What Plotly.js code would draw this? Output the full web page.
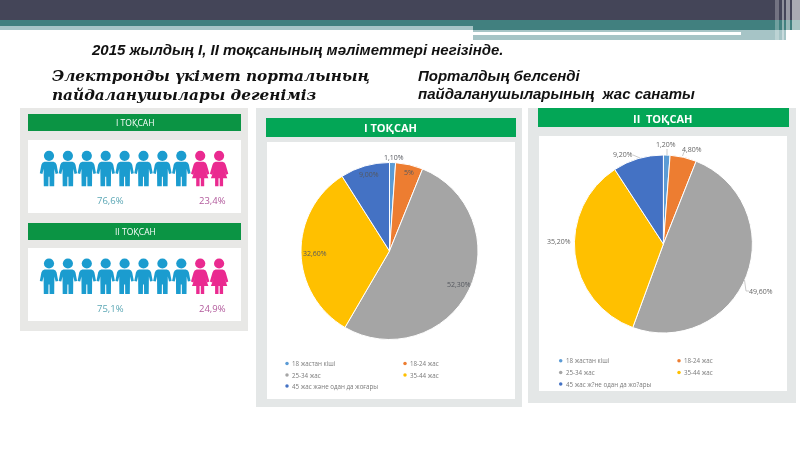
<!DOCTYPE html>
<html>
<head>
<meta charset="utf-8">
<script src="https://cdn.plot.ly/plotly-3.0.1.min.js"></script>
<style>html,body{margin:0;padding:0;background:#fff}#chart{width:800px;height:450px;filter:blur(0.45px)}</style>
</head>
<body>
<div id="chart"></div>
<script>
var categoriesQ1 = ['18 жастан кіші','18-24 жас','25-34 жас','35-44 жас','45 жас және одан да жоғары'];
var categoriesQ2 = ['18 жастан кіші','18-24 жас','25-34 жас','35-44 жас','45 жас ж?не одан да жо?ары'];
var valuesQ1 = [1.1,5,52.3,32.6,9];
var valuesQ2 = [1.2,4.8,49.6,35.2,9.2];
var labelsQ1 = ['1,10%','5%','52,30%','32,60%','9,00%'];
var labelsQ2 = ['1,20%','4,80%','49,60%','35,20%','9,20%'];
var sliceColors = ['#5B9BD5','#ED7D31','#A5A5A5','#FFC000','#4472C4'];
var maleCount = 8, femaleCount = 2;
var genderShares = [['76,6%','23,4%'],['75,1%','24,9%']];
var quarters = ['I ТОҚСАН','II ТОҚСАН'];

var W = 800, H = 450;
var shapes = [], ann = [];
function rect(x0,y0,x1,y1,c,layer){shapes.push({type:'rect',xref:'x',yref:'y',x0:x0,y0:y0,x1:x1,y1:y1,fillcolor:c,line:{width:0},layer:layer||'below'});}
function txt(x,y,t,size,color,o){o=o||{};ann.push({xref:'x',yref:'y',x:x,y:y,text:t,showarrow:false,xanchor:o.anchor||'center',yanchor:'middle',align:'left',borderpad:0,borderwidth:0,font:{family:o.family||'Open Sans, sans-serif',size:size,color:color}});}
function leader(pts){shapes.push({type:'path',xref:'x',yref:'y',path:'M'+pts.map(function(p){return p.join(',')}).join(' L'),line:{color:'#b5b5b5',width:.7},layer:'above'});}

/* slide header */
rect(0,0,800,20,'#444558');
rect(0,20,800,30,'#41807f');
rect(0,26,473,30,'#a8c5c7');
rect(473,30,786,40,'#a6c4c6');
rect(473,32,741,35,'#ffffff');
[[775,779,.25],[782,784,.4],[786,790,.45],[792,800,.55]].forEach(function(s){rect(s[0],0,s[1],40,'rgba(255,255,255,'+s[2]+')');});

/* panels */
rect(20,108,248,331,'#e8e8e6');
rect(28,114,241,131,'#0b9444');
rect(28,140,241,213,'#ffffff');
rect(28,223,241,240,'#0b9444');
rect(28,248,241,321,'#ffffff');
rect(256,108,522,407,'#e4e7e7');
rect(266,118,516,137,'#03a656');
rect(267,142,515,399,'#ffffff');
rect(528,108,796,403,'#e4e7e7');
rect(538,108,789,127,'#03a656');
rect(539,136,787,391,'#ffffff');

/* people */
var malePath = [[-4.5,11],[4.5,11],[6.5,12],[7.6,14],[9.2,22.5],[6.6,23.2],[5.4,18],[5.2,35.5],[.6,35.5],[.5,26],[-.5,26],[-.6,35.5],[-5.2,35.5],[-5.4,18],[-6.6,23.2],[-9.2,22.5],[-7.6,14],[-6.5,12]];
var femalePath = [[-3.5,11],[3.5,11],[5.5,12],[6.6,14],[9.2,23],[7,24],[5,19],[8.2,27.5],[4,27.5],[4,35.5],[.6,35.5],[.6,27.5],[-.6,27.5],[-.6,35.5],[-4,35.5],[-4,27.5],[-8.2,27.5],[-5,19],[-7,24],[-9.2,23],[-6.6,14],[-5.5,12]];
function person(cx,top,pts,color){
  shapes.push({type:'circle',xref:'x',yref:'y',x0:cx-5.1,x1:cx+5.1,y0:top,y1:top+10.2,fillcolor:color,line:{width:0},layer:'below'});
  shapes.push({type:'path',xref:'x',yref:'y',path:'M'+pts.map(function(p){return (cx+p[0])+','+(top+p[1])}).join(' L')+' Z',fillcolor:color,line:{width:0},layer:'below'});
}
[150.7,258.4].forEach(function(top){
  for(var i=0;i<maleCount+femaleCount;i++){
    var cx = 49 + i*18.9;
    person(cx,top,i<maleCount?malePath:femalePath,i<maleCount?'#1b9ccf':'#ea2a90');
  }
});
[[200,122.5],[308,231]].forEach(function(p,i){
  txt(110,p[0],genderShares[i][0],9.5,'#5aa6b4');
  txt(212,p[0],genderShares[i][1],9.5,'#b25a9c');
  txt(135,p[1],quarters[i],8.5,'#ffffff');
});
txt(390,127,'<b>І ТОҚСАН</b>',11,'#ffffff');
txt(662,118,'<b>II  ТОҚСАН</b>',11,'#ffffff');

/* heading texts */
var ARIAL='Liberation Sans, Arial, sans-serif', SERIF='DejaVu Serif, serif';
txt(91,49,'<b><i>2015 жылдың I, II тоқсанының мәліметтері негізінде.</i></b>',15,'#111111',{anchor:'left',family:ARIAL});
txt(52,76,'<b><i>Электронды үкімет порталының</i></b>',15.3,'#111111',{anchor:'left',family:SERIF});
txt(52,95,'<b><i>пайдаланушылары дегеніміз</i></b>',15.3,'#111111',{anchor:'left',family:SERIF});
txt(418,75,'<b><i>Порталдың белсенді</i></b>',15,'#111111',{anchor:'left',family:ARIAL});
txt(418,93,'<b><i>пайдаланушыларының  жас санаты</i></b>',15,'#111111',{anchor:'left',family:ARIAL});

/* pie labels */
var lab1=[[393.5,157],[408.7,172],[459,284.5],[315,253],[369,174.5]];
var lab2=[[666,144.7],[692,149],[761,291],[559,241],[623,154]];
labelsQ1.forEach(function(t,i){txt(lab1[i][0],lab1[i][1],t,7,'#55585f');});
labelsQ2.forEach(function(t,i){txt(lab2[i][0],lab2[i][1],t,7,'#666666');});
leader([[667,149],[667,155]]);
leader([[684,152],[682.5,156]]);
leader([[633,155],[640,158]]);
leader([[744.5,280],[746,291],[749,291]]);

function pie(vals,cats,cx,cy,r){
  return {type:'pie',values:vals,labels:cats,sort:false,direction:'clockwise',rotation:0,textinfo:'none',hoverinfo:'none',showlegend:false,
    marker:{colors:sliceColors,line:{color:'#ffffff',width:1}},
    domain:{x:[(cx-r)/W,(cx+r)/W],y:[1-(cy+r)/H,1-(cy-r)/H]}};
}
function legendTrace(cats,xs,ys){
  var order=[[0,0],[1,0],[0,1],[1,1],[0,2]];
  order.forEach(function(o,i){txt(xs[o[0]]+5,ys[o[1]],cats[i],6.2,'#7a7a7a',{anchor:'left'});});
  return {type:'scatter',mode:'markers',x:order.map(function(o){return xs[o[0]]}),y:order.map(function(o){return ys[o[1]]}),
    marker:{size:3.5,color:sliceColors},hoverinfo:'none',showlegend:false,cliponaxis:false};
}
var data=[
  legendTrace(categoriesQ1,[287,405],[363.5,375,386]),
  legendTrace(categoriesQ2,[560.7,679],[360.7,372.5,384]),
  pie(valuesQ1,categoriesQ1,389.5,251,88.5),
  pie(valuesQ2,categoriesQ2,663.4,244,89)
];
var layout={width:W,height:H,margin:{l:0,r:0,t:0,b:0},paper_bgcolor:'#ffffff',plot_bgcolor:'rgba(0,0,0,0)',showlegend:false,
  xaxis:{range:[0,W],visible:false,fixedrange:true},yaxis:{range:[H,0],visible:false,fixedrange:true},shapes:shapes,annotations:ann};
Plotly.newPlot('chart',data,layout,{displayModeBar:false,staticPlot:true});
</script>
</body>
</html>
